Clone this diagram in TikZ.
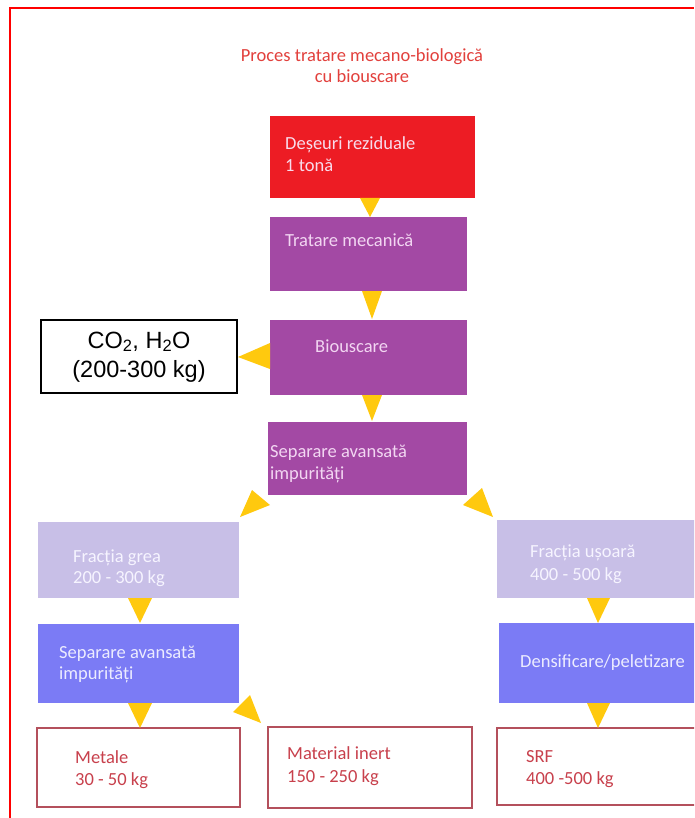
\documentclass[tikz,border=0pt]{standalone}
\usepackage{fontspec}
\setmainfont{Carlito}
\newfontfamily\arialf{Liberation Sans}
\usetikzlibrary{calc}
\definecolor{cRed}{HTML}{ED1C24}
\definecolor{cPurple}{HTML}{A349A4}
\definecolor{cLav}{HTML}{C8BFE7}
\definecolor{cBlue}{HTML}{7B7BF5}
\definecolor{cGold}{HTML}{FFC90E}
\definecolor{cTitle}{HTML}{E2403C}
\definecolor{cOut}{HTML}{B4505C}
\definecolor{cOutTxt}{HTML}{C8404C}
\definecolor{cPinkTxt}{HTML}{F8DCEC}
\definecolor{cPurTxt}{HTML}{F2D6F2}
\definecolor{cLavTxt}{HTML}{F6F4FF}
\definecolor{cBlueTxt}{HTML}{ECECFF}
\begin{document}
\begin{tikzpicture}[x=1pt,y=-1pt,
  box/.style={rectangle, inner sep=0pt, outer sep=0pt, draw=none},
  outbox/.style={rectangle, inner sep=0pt, outer sep=0pt, draw=cOut, line width=1.2pt, fill=white},
  txt/.style={anchor=base west, inner sep=0pt, font=\fontsize{18.5}{22}\selectfont},
  ttl/.style={anchor=base, inner sep=0pt, font=\fontsize{18.5}{22}\selectfont, text=cTitle},
  tri/.style={fill=cGold, draw=none}]
\useasboundingbox (0,0) rectangle (694,818);
\fill[white] (0,0) rectangle (694,818);
\begin{scope}
\clip (0,0) rectangle (694,818);
% title
\node[ttl] (title1) at (362,62) {Proces tratare mecano-biologică};
\node[ttl] (title2) at (362,83) {cu biouscare};
% boxes
\node[box, fill=cRed, minimum width=205pt, minimum height=82pt] (red) at (372.5,157) {};
\node[box, fill=cPurple, minimum width=197pt, minimum height=74pt] (trat) at (368.5,254) {};
\node[box, fill=cPurple, minimum width=197pt, minimum height=75pt] (bio) at (368.5,357.5) {};
\node[rectangle, inner sep=0pt, outer sep=0pt, draw=black, line width=1.5pt, fill=white, minimum width=196pt, minimum height=73pt] (co2) at (139,356.5) {};
\node[box, fill=cPurple, minimum width=199pt, minimum height=73pt] (sepP) at (367.5,458.5) {};
\node[box, fill=cLav, minimum width=201pt, minimum height=76pt] (fg) at (138.5,560) {};
\node[box, fill=cBlue, minimum width=201pt, minimum height=79pt] (sepB) at (138.5,663.5) {};
\node[box, fill=cLav, minimum width=213pt, minimum height=78pt] (fu) at (603.5,559) {};
\node[box, fill=cBlue, minimum width=211pt, minimum height=80pt] (dens) at (604.5,663) {};
\node[outbox, minimum width=203pt, minimum height=79pt] (met) at (138.5,767.5) {};
\node[outbox, minimum width=204pt, minimum height=81pt] (mat) at (370,767.5) {};
\node[outbox, minimum width=213pt, minimum height=77pt] (srf) at (603.5,766.5) {};
% texts
\node[txt, text=cPinkTxt] (tr1) at (285,150) {Deșeuri reziduale};
\node[txt, text=cPinkTxt] (tr2) at (285,172) {1 tonă};
\node[txt, text=cPurTxt] (tt1) at (285,247) {Tratare mecanică};
\node[txt, text=cPurTxt] (tb1) at (315,352) {Biouscare};
\node[anchor=base, inner sep=0pt, font=\arialf\fontsize{23.5}{28}\selectfont] (tc1) at (139,348) {CO\textsubscript{2}, H\textsubscript{2}O};
\node[anchor=base, inner sep=0pt, font=\arialf\fontsize{23.5}{28}\selectfont] (tc2) at (139,377) {(200-300 kg)};
\node[txt, text=cPurTxt] (ts1) at (270,457) {Separare avansată};
\node[txt, text=cPurTxt] (ts2) at (270,479) {impurități};
\node[txt, text=cLavTxt] (tg1) at (73,562) {Fracția grea};
\node[txt, text=cLavTxt] (tg2) at (73,583) {200 - 300 kg};
\node[txt, text=cBlueTxt] (tsb1) at (59,658) {Separare avansată};
\node[txt, text=cBlueTxt] (tsb2) at (59,679) {impurități};
\node[txt, text=cLavTxt] (tu1) at (530,557) {Fracția ușoară};
\node[txt, text=cLavTxt] (tu2) at (530,580) {400 - 500 kg};
\node[txt, text=cBlueTxt] (td1) at (520,667) {Densificare/peletizare};
\node[txt, text=cOutTxt] (tm1) at (75,763) {Metale};
\node[txt, text=cOutTxt] (tm2) at (75,785) {30 - 50 kg};
\node[txt, text=cOutTxt] (ti1) at (287,759) {Material inert};
\node[txt, text=cOutTxt] (ti2) at (287,782) {150 - 250 kg};
\node[txt, text=cOutTxt] (tf1) at (526,762) {SRF};
\node[txt, text=cOutTxt] (tf2) at (526,784) {400 -500 kg};
% triangles (connectors)
\fill[tri] ($(red.south)+(-12.5,0)$) -- ($(red.south)+(7.5,0)$) -- ($(trat.north)+(1.5,0)$) -- cycle;
\fill[tri] ($(trat.south)+(-6.5,0)$) -- ($(trat.south)+(13.5,0)$) -- ($(bio.north)+(3.5,-1)$) -- cycle;
\fill[tri] ($(bio.south)+(-6.5,0)$) -- ($(bio.south)+(13.5,0)$) -- ($(sepP.north)+(4.5,-1)$) -- cycle;
\fill[tri] ($(bio.west)+(0,-14.5)$) -- ($(bio.west)+(0,11.5)$) -- ($(co2.east)+(1,0.5)$) -- cycle;
\fill[tri] ($(sepP.south west)+(-16,-5)$) -- ($(sepP.south west)+(2,10)$) -- ($(fg.north east)+(1,-5)$) -- cycle;
\fill[tri] ($(sepP.south east)+(15,-7)$) -- ($(fu.north west)+(-4,-3)$) -- ($(sepP.south east)+(-4,10)$) -- cycle;
\fill[tri] ($(fg.south)+(-10.5,0)$) -- ($(fg.south)+(13.5,0)$) -- ($(sepB.north)+(1.5,-1)$) -- cycle;
\fill[tri] ($(sepB.south)+(-10.5,0)$) -- ($(sepB.south)+(13.5,0)$) -- ($(met.north)+(1.5,0)$) -- cycle;
\fill[tri] ($(sepB.south east)+(-6,9)$) -- ($(sepB.south east)+(11,-8)$) -- ($(mat.north west)+(-7,-4)$) -- cycle;
\fill[tri] ($(fu.south)+(-16.5,0)$) -- ($(fu.south)+(6.5,0)$) -- ($(dens.north)+(-6.5,0)$) -- cycle;
\fill[tri] ($(dens.south)+(-17.5,0)$) -- ($(dens.south)+(5.5,0)$) -- ($(srf.north)+(-5.5,0)$) -- cycle;
\end{scope}
\draw[red, line width=2pt] (10,818) -- (10,8) -- (694,8);
\end{tikzpicture}
\end{document}
